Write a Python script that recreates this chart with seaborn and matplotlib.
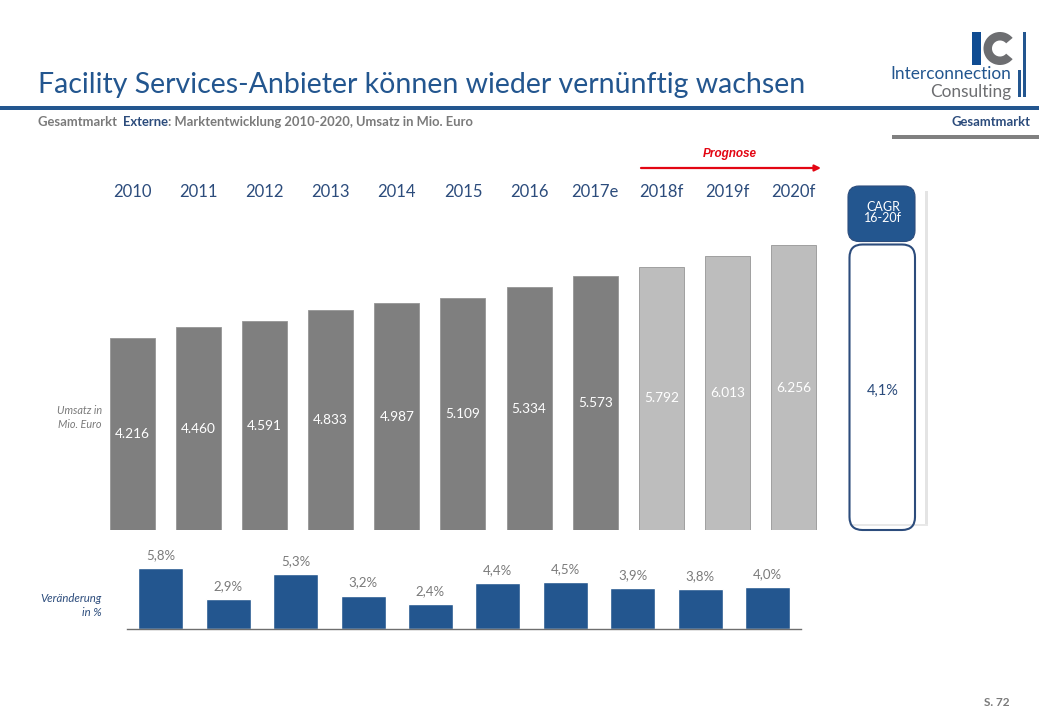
import matplotlib
matplotlib.use("Agg")
import matplotlib.pyplot as plt
from matplotlib.patches import FancyBboxPatch, Rectangle, Wedge
import pandas as pd
import seaborn as sns

years = ["2010", "2011", "2012", "2013", "2014", "2015", "2016", "2017e", "2018f", "2019f", "2020f"]
revenue = [4216, 4460, 4591, 4833, 4987, 5109, 5334, 5573, 5792, 6013, 6256]
period = ["Ist"] * 8 + ["Prognose"] * 3
change_years = years[1:]
change = [5.8, 2.9, 5.3, 3.2, 2.4, 4.4, 4.5, 3.9, 3.8, 4.0]

BLUE = "#23568F"
NAVY = "#2C4C7C"
GREY = "#7F7F7F"
LIGHT = "#BDBDBD"
TEXT = "#7A7A7A"
W, H = 1039, 720

sns.set_theme(style="white")
plt.rcParams["font.family"] = ["Lato", "DejaVu Sans"]

fig = plt.figure(figsize=(W / 100, H / 100), dpi=100, facecolor="white")

def px_axes(left, top, right, bottom):
    return fig.add_axes([left / W, 1 - bottom / H, (right - left) / W, (bottom - top) / H])

# Overlay for page furniture, in pixel coordinates
deco = fig.add_axes([0, 0, 1, 1], zorder=5)
deco.set_xlim(0, W)
deco.set_ylim(H, 0)
deco.axis("off")
deco.patch.set_alpha(0)

# Upper chart
ax = px_axes(99.2, 240, 826.7, 530)
df = pd.DataFrame({"Jahr": years, "Umsatz": revenue, "Periode": period})
sns.barplot(data=df, x="Jahr", y="Umsatz", hue="Periode", dodge=False, legend=False,
            palette={"Ist": GREY, "Prognose": LIGHT}, width=0.68, ax=ax,
            edgecolor="#969696", linewidth=0.6)
ax.set_xlim(-0.5, 10.5)
ax.set_ylim(0, 6375)
ax.set(xlabel="", ylabel="", yticks=[])
ax.xaxis.tick_top()
ax.tick_params(axis="x", length=0, pad=28.5, labelsize=12, labelcolor=NAVY)
sns.despine(ax=ax, left=True, bottom=True, top=True, right=True)
for container in ax.containers:
    labels = [f"{int(b.get_height()):,}".replace(",", ".") for b in container]
    ax.bar_label(container, labels=labels, label_type="center", color="white", fontsize=9.8)

# Lower chart
ax2 = px_axes(127.2, 560, 801.2, 629)
df2 = pd.DataFrame({"Jahr": change_years, "Veränderung": change})
sns.barplot(data=df2, x="Jahr", y="Veränderung", color=BLUE, saturation=1, width=0.668, ax=ax2)
ax2.set_xlim(-0.5, 9.5)
ax2.set_ylim(0, 69 / 10.45)
ax2.set(xlabel="", ylabel="", xticks=[], yticks=[])
sns.despine(ax=ax2, left=True, top=True, right=True)
ax2.spines["bottom"].set_color("#6E6E6E")
ax2.spines["bottom"].set_linewidth(1)
ax2.patch.set_alpha(0)
for container in ax2.containers:
    labels = [f"{b.get_height():.1f}".replace(".", ",") + "%" for b in container]
    ax2.bar_label(container, labels=labels, padding=5, color=TEXT, fontsize=9.5)

# Header
deco.text(38, 85, "Facility Services-Anbieter können wieder vernünftig wachsen",
          color=BLUE, fontsize=20.5, va="center", ha="left")
deco.add_patch(Rectangle((0, 106), W, 4, color=BLUE, lw=0))

x = 38
for part, col in [("Gesamtmarkt ", TEXT), ("Externe", NAVY),
                  (": Marktentwicklung 2010-2020, Umsatz in Mio. Euro", TEXT)]:
    t = deco.text(x, 122, part, color=col, fontsize=9.4, fontweight="bold", va="center", ha="left")
    ext = t.get_window_extent(fig.canvas.get_renderer())
    t2 = deco.transData.inverted().transform([(ext.x0, 0), (ext.x1, 0)])
    x = t2[1][0] + (3 if part.endswith(" ") else 0)

deco.text(1030, 122, "Gesamtmarkt", color=NAVY, fontsize=9.4, fontweight="bold", va="center", ha="right")
deco.add_patch(Rectangle((892, 135), W - 892, 3.5, color="#808080", lw=0))

# Logo
deco.add_patch(Rectangle((971.5, 32), 9, 33, color="#0F4C92", lw=0))
deco.add_patch(Wedge((1000, 48.5), 16.5, 40, 320, width=8.5, color="#6D6E71", lw=0))
deco.add_patch(Rectangle((1018, 70), 3, 27, color=BLUE, lw=0))
deco.add_patch(Rectangle((1023, 32), 3, 65, color=BLUE, lw=0))
deco.text(1011, 74, "Interconnection", color=BLUE, fontsize=12.4, ha="right", va="center")
deco.text(1011, 92, "Consulting", color="#6D6E71", fontsize=12.4, ha="right", va="center")

# Forecast marker
deco.text(730, 154.5, "Prognose", color="#E30613", fontsize=8.5, fontweight="bold",
          fontstyle="italic", ha="center", va="center", family=["Liberation Sans"])
deco.annotate("", xy=(821, 168), xytext=(641, 168),
              arrowprops=dict(arrowstyle="-|>", color="#E30613", lw=1.6, mutation_scale=9,
                              shrinkA=0, shrinkB=0))

# CAGR column
deco.add_patch(Rectangle((925, 191), 3, 334, color="#E4E4E4", lw=0))
deco.add_patch(Rectangle((850, 524), 78, 1.5, color="#E8E8E8", lw=0))
deco.add_patch(FancyBboxPatch((849.5, 244.5), 65.5, 285.5,
                              boxstyle="round,pad=0,rounding_size=13", fc="none", ec=NAVY, lw=1.5))
deco.add_patch(FancyBboxPatch((848, 186), 67, 55.5,
                              boxstyle="round,pad=0,rounding_size=11", fc=BLUE, ec=NAVY, lw=0.8))
deco.text(883, 207, "CAGR", color="white", fontsize=9, ha="center", va="center")
deco.text(883, 218, "16-20f", color="white", fontsize=9, ha="center", va="center")
deco.text(883, 391, "4,1%", color=NAVY, fontsize=10.5, ha="center", va="center")

# Row captions and page number
deco.text(102, 410, "Umsatz in", color=TEXT, fontsize=7.8, fontstyle="italic", ha="right", va="center")
deco.text(102, 424, "Mio. Euro", color=TEXT, fontsize=7.8, fontstyle="italic", ha="right", va="center")
deco.text(102, 598, "Veränderung", color=NAVY, fontsize=8.2, fontstyle="italic", ha="right", va="center")
deco.text(102, 612, "in %", color=NAVY, fontsize=8.2, fontstyle="italic", ha="right", va="center")
deco.text(1010, 703, "S. 72", color=TEXT, fontsize=8.5, fontweight="bold", ha="right", va="center")

fig.savefig("out.png", dpi=100, facecolor="white")
